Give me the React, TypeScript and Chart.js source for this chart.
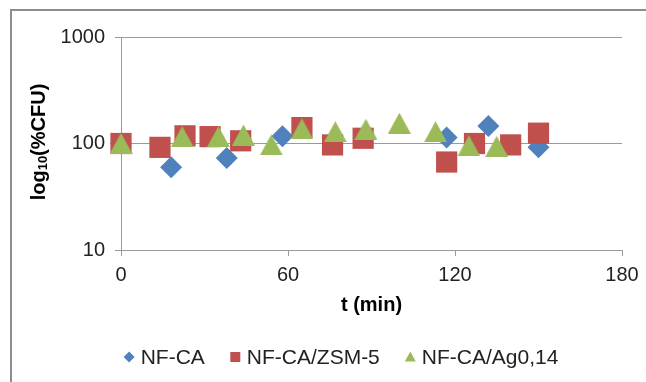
import React, { useEffect, useRef } from "react";
import { Chart, registerables } from "chart.js";

Chart.register(...registerables);

const seriesNames = ["NF-CA", "NF-CA/ZSM-5", "NF-CA/Ag0,14"];
const nfcaT = [0, 18, 38, 58, 117, 132, 150];
const nfcaV = [100, 60, 73, 117, 114, 146, 92];
const zsmT = [0, 14, 23, 32, 43, 65, 76, 87, 117, 127, 140, 150];
const zsmV = [100, 92, 118, 116, 106, 141, 97, 112, 67, 100, 97, 125];
const agT = [0, 22, 35, 44, 54, 65, 77, 88, 100, 113, 125, 135];
const agV = [100, 116, 116, 120, 97, 137, 129, 136, 155, 129, 95, 94];
const yTicks = [10, 100, 1000];
const xTitle = "t (min)";

const colors = ["#4F81BD", "#C0504D", "#9BBB59"];
const radii = [11, 15, 13.5];
const FAMILY = "'Liberation Sans', Arial, sans-serif";

const toPts = (t: number[], v: number[]) => t.map((x, i) => ({ x, y: v[i] }));

function makeTriangle(color: string, w: number, h: number) {
  const c = document.createElement("canvas");
  c.width = w;
  c.height = h;
  const g = c.getContext("2d")!;
  g.fillStyle = color;
  g.beginPath();
  g.moveTo(w / 2, 0);
  g.lineTo(w, h);
  g.lineTo(0, h);
  g.closePath();
  g.fill();
  return c;
}

const decorPlugin = {
  id: "decor",
  beforeDraw(chart: any) {
    const ctx = chart.ctx;
    ctx.save();
    ctx.strokeStyle = "#8c8c8c";
    ctx.lineWidth = 2;
    ctx.strokeRect(11, 10, 800, 600);
    ctx.restore();
  },
  afterDraw(chart: any) {
    const ctx = chart.ctx;
    // y-axis title with subscript
    ctx.save();
    ctx.fillStyle = "#000";
    const big = "bold 20px " + FAMILY;
    const small = "bold 13px " + FAMILY;
    ctx.font = big;
    const w1 = ctx.measureText("log").width;
    const w3 = ctx.measureText("(%CFU)").width;
    ctx.font = small;
    const w2 = ctx.measureText("10").width;
    const total = w1 + w2 + w3;
    ctx.translate(39, 142);
    ctx.rotate(-Math.PI / 2);
    ctx.textBaseline = "middle";
    ctx.textAlign = "left";
    let x = -total / 2;
    ctx.font = big;
    ctx.fillText("log", x, 0);
    x += w1;
    ctx.font = small;
    ctx.fillText("10", x, 4);
    x += w2;
    ctx.font = big;
    ctx.fillText("(%CFU)", x, 0);
    ctx.restore();

    // legend
    ctx.save();
    ctx.font = "21px " + FAMILY;
    const box = 11;
    const gapText = 6;
    const gapItem = 25;
    const widths = seriesNames.map((n) => box + gapText + ctx.measureText(n).width);
    const totalW = widths.reduce((a, b) => a + b, 0) + gapItem * (seriesNames.length - 1);
    let lx = 341 - totalW / 2;
    const ly = 357;
    seriesNames.forEach((n, i) => {
      const mx = lx + box / 2;
      ctx.fillStyle = colors[i];
      ctx.beginPath();
      if (i === 0) {
        const r = 5.5;
        ctx.moveTo(mx, ly - r);
        ctx.lineTo(mx + r, ly);
        ctx.lineTo(mx, ly + r);
        ctx.lineTo(mx - r, ly);
      } else if (i === 1) {
        ctx.rect(mx - 5, ly - 5, 10, 10);
      } else {
        ctx.moveTo(mx, ly - 5.5);
        ctx.lineTo(mx + 5.5, ly + 4.5);
        ctx.lineTo(mx - 5.5, ly + 4.5);
      }
      ctx.closePath();
      ctx.fill();
      ctx.fillStyle = "#222";
      ctx.textBaseline = "middle";
      ctx.textAlign = "left";
      ctx.fillText(n, lx + box + gapText, ly + 1);
      lx += widths[i] + gapItem;
    });
    ctx.restore();
  },
};

export default function App() {
  const ref = useRef<HTMLCanvasElement | null>(null);
  useEffect(() => {
    if (!ref.current) return;
    const series = [toPts(nfcaT, nfcaV), toPts(zsmT, zsmV), toPts(agT, agV)];
    const styles: any[] = ["rectRot", "rect", makeTriangle(colors[2], 23, 21)];
    const chart = new Chart(ref.current, {
      type: "scatter",
      data: {
        datasets: series.map((d, i) => ({
          label: seriesNames[i],
          data: d,
          backgroundColor: colors[i],
          borderColor: colors[i],
          borderWidth: 0,
          pointStyle: styles[i],
          pointRadius: radii[i],
          pointHoverRadius: radii[i],
          showLine: false,
          clip: false as any,
          order: 3 - i,
        })),
      },
      options: {
        responsive: false,
        animation: false,
        layout: { padding: { left: 0, top: 37, right: 24, bottom: 65 } },
        plugins: { legend: { display: false }, tooltip: { enabled: false } },
        scales: {
          x: {
            type: "linear",
            min: 0,
            max: 180,
            ticks: {
              stepSize: 60,
              padding: 7,
              color: "#222",
              font: { family: FAMILY, size: 20 },
            },
            grid: { display: true, drawOnChartArea: false, drawTicks: true, tickLength: 6, color: "#9a9a9a" },
            border: { display: true, color: "#9a9a9a", width: 1 },
            title: {
              display: true,
              text: xTitle,
              color: "#000",
              padding: { top: 4, bottom: 0 },
              font: { family: FAMILY, size: 20, weight: "bold" },
            },
            afterFit: (s: any) => {
              s.height = 67;
            },
          },
          y: {
            type: "logarithmic",
            min: 10,
            max: 1000,
            afterBuildTicks: (s: any) => {
              s.ticks = yTicks.map((v) => ({ value: v }));
            },
            ticks: {
              padding: 10,
              color: "#222",
              font: { family: FAMILY, size: 20 },
              callback: (v: any) => String(v),
            },
            grid: { display: true, drawTicks: true, tickLength: 6, color: "#9a9a9a" },
            border: { display: true, color: "#9a9a9a", width: 1 },
            afterFit: (s: any) => {
              s.width = 121;
            },
          },
        },
      },
      plugins: [decorPlugin],
    });
    return () => chart.destroy();
  }, []);
  return (
    <div style={{ position: "absolute", left: 0, top: 0, width: 646, height: 382, background: "#fff" }}>
      <canvas ref={ref} width={646} height={382} />
    </div>
  );
}
